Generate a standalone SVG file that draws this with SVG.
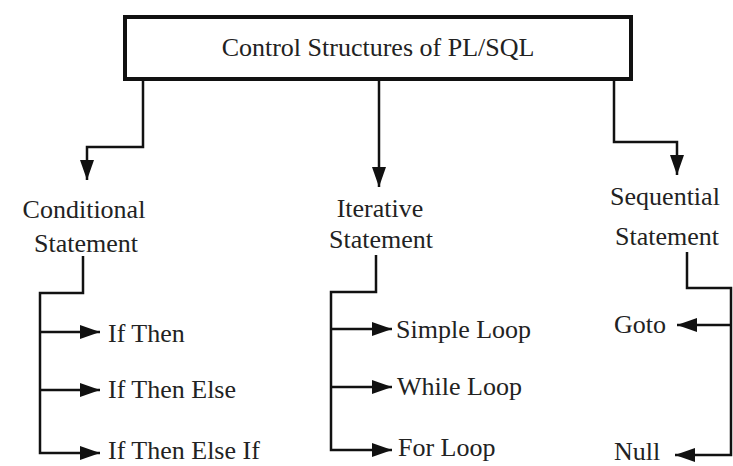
<svg xmlns="http://www.w3.org/2000/svg" width="733" height="466" viewBox="0 0 733 466">
<style>
text{fill:#222;}
.n{font-size:26px;}
.c{fill:none;stroke:#111;stroke-width:2.5;}
</style>
<defs>
<marker id="ahL" markerWidth="20" markerHeight="14" refX="20" refY="7" orient="auto" markerUnits="userSpaceOnUse" viewBox="0 0 20 14">
<path d="M0,0 L20,7 L0,14 Z" fill="#111"/>
</marker>
</defs>
<rect width="733" height="466" fill="#fff"/>
<g id="root">
<rect x="125" y="17" width="506" height="62" fill="#fff" stroke="#111" stroke-width="4"/>
<text class="n" x="378" y="56" text-anchor="middle" font-family="Liberation Serif">Control Structures of PL/SQL</text>
</g>
<g id="conditional">
<text class="n" x="84" y="218" text-anchor="middle" font-family="Liberation Serif">Conditional</text>
<text class="n" x="86" y="252" text-anchor="middle" font-family="Liberation Serif">Statement</text>
</g>
<g id="iterative">
<text class="n" x="380" y="217" text-anchor="middle" font-family="Liberation Serif">Iterative</text>
<text class="n" x="381" y="248" text-anchor="middle" font-family="Liberation Serif">Statement</text>
</g>
<g id="sequential">
<text class="n" x="665" y="205" text-anchor="middle" font-family="Liberation Serif">Sequential</text>
<text class="n" x="667" y="245" text-anchor="middle" font-family="Liberation Serif">Statement</text>
</g>
<g id="ifthen"><text class="n" x="108" y="342" font-family="Liberation Serif">If Then</text></g>
<g id="ifthenelse"><text class="n" x="108" y="398" font-family="Liberation Serif">If Then Else</text></g>
<g id="ifthenelseif"><text class="n" x="108" y="459" font-family="Liberation Serif">If Then Else If</text></g>
<g id="simpleloop"><text class="n" x="396" y="338" font-family="Liberation Serif">Simple Loop</text></g>
<g id="whileloop"><text class="n" x="397" y="395" font-family="Liberation Serif">While Loop</text></g>
<g id="forloop"><text class="n" x="398" y="456" font-family="Liberation Serif">For Loop</text></g>
<g id="goto"><text class="n" x="614" y="333" font-family="Liberation Serif">Goto</text></g>
<g id="null"><text class="n" x="614" y="460" font-family="Liberation Serif">Null</text></g>
<g id="connectors">
<path class="c" d="M143,80 V147 H87 V180" marker-end="url(#ahL)"/>
<path class="c" d="M379,80 V187" marker-end="url(#ahL)"/>
<path class="c" d="M614,80 V142 H677 V175" marker-end="url(#ahL)"/>
<path class="c" d="M83,256 V293 H40 V453 H100" marker-end="url(#ahL)"/>
<path class="c" d="M40,332 H100" marker-end="url(#ahL)"/>
<path class="c" d="M40,390 H100" marker-end="url(#ahL)"/>
<path class="c" d="M376,255 V292 H331 V450 H392" marker-end="url(#ahL)"/>
<path class="c" d="M331,329 H392" marker-end="url(#ahL)"/>
<path class="c" d="M331,387 H392" marker-end="url(#ahL)"/>
<path class="c" d="M687,252 V288 H731 V455 H675" marker-end="url(#ahL)"/>
<path class="c" d="M731,325 H677" marker-end="url(#ahL)"/>
</g>
</svg>
